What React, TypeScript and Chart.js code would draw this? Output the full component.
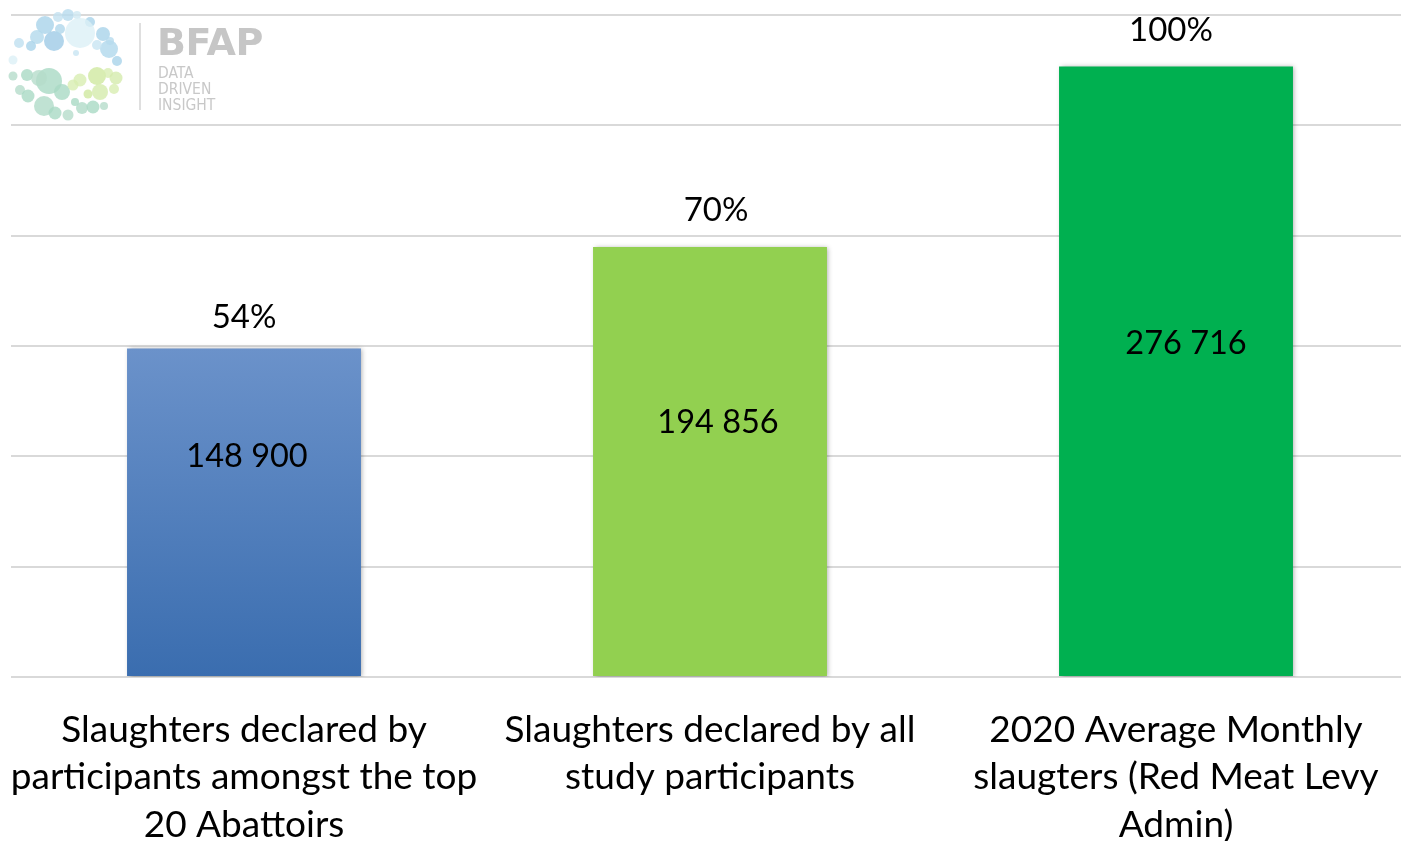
import React, { useEffect, useRef } from "react";
import { Chart, registerables } from "chart.js";

Chart.register(...registerables);

const categories: string[][] = [
  ["Slaughters declared by", "participants amongst the top", "20 Abattoirs"],
  ["Slaughters declared by all", "study participants"],
  ["2020 Average Monthly", "slaugters (Red Meat Levy", "Admin)"],
];
const slaughterValues: number[] = [148900, 194856, 276716];
const shareLabels: string[] = ["54%", "70%", "100%"];
const yMax = 300000;
const yStep = 50000;

const FONT = "Lato, 'Open Sans', sans-serif";
const W = 1410;
const H = 841;
const PLOT_BOTTOM = 677;

const fmt = (v: number) => String(v).replace(/\B(?=(\d{3})+(?!\d))/g, " ");

const barLabelPlugin = {
  id: "barLabels",
  beforeDatasetsDraw(chart: any) {
    const ctx = chart.ctx;
    ctx.save();
    ctx.shadowColor = "rgba(0,0,0,0.35)";
    ctx.shadowBlur = 5;
    ctx.shadowOffsetX = 1.5;
    ctx.shadowOffsetY = 1;
  },
  afterDatasetsDraw(chart: any, _args: any, opts: any) {
    const ctx = chart.ctx;
    ctx.restore();
    const meta = chart.getDatasetMeta(0);
    ctx.save();
    ctx.fillStyle = "#000";
    ctx.textAlign = "center";
    ctx.textBaseline = "middle";
    meta.data.forEach((bar: any, i: number) => {
      const top = bar.y;
      const base = bar.base;
      ctx.font = `33px ${FONT}`;
      ctx.fillText(shareLabels[i], bar.x + opts.aboveDx[i], top - opts.aboveGap[i]);
      ctx.font = `32.5px ${FONT}`;
      const f = opts.insideFrac[i];
      ctx.fillText(fmt(slaughterValues[i]), bar.x + opts.insideDx[i], top + (base - top) * f);
    });
    ctx.restore();
  },
};

const circles: [number, number, number, string][] = [
  [45, 25, 9, "#a9d3ea"], [58, 17, 5, "#c3e1f0"], [68, 15, 6, "#b6dbee"], [77, 15, 4, "#cfe8f3"],
  [90, 22, 5, "#a9d3ea"], [80, 33, 15, "#dcf0f6"], [54, 41, 10, "#9fcbe6"], [37, 37, 7, "#b3d9ec"],
  [31, 46, 5, "#a9d3ea"], [19, 43, 5, "#bfe0f0"], [60, 29, 5, "#b0d7eb"], [103, 34, 7, "#a9d3ea"],
  [109, 49, 9, "#b0d8ec"], [97, 45, 5, "#c8e5f2"], [117, 61, 5, "#a9d3ea"], [13, 60, 4.5, "#dcf0f6"],
  [76, 53, 3, "#c8e5f2"], [110, 41, 4, "#b6dbee"],
  [13, 76, 4.5, "#b5dccb"], [27, 75, 6, "#a9d9c4"], [49, 81, 13, "#a9d9c4"], [39, 78, 8, "#b5dccb"],
  [62, 92, 8, "#a9d9c4"], [20, 90, 5, "#b5dccb"], [28, 96, 6.5, "#a9d9c4"], [44, 106, 10, "#b0dbc8"],
  [55, 113, 6.5, "#a9d9c4"], [68, 115, 5.5, "#b5dccb"], [75, 102, 4, "#a9d9c4"], [82, 108, 6, "#b0dbc8"],
  [93, 107, 6.5, "#a9d9c4"], [104, 106, 4, "#b5dccb"],
  [80, 80, 6.5, "#d8edb1"], [97, 76, 9, "#cfe9a0"], [108, 73, 5, "#d8edb1"], [116, 78, 6.5, "#d4ebac"],
  [100, 92, 8, "#d4ebac"], [114, 89, 5, "#d8edb1"], [88, 94, 4.5, "#cfe9a0"], [73, 85, 5.5, "#d8edb1"],
];

function Logo() {
  return (
    <div style={{ position: "absolute", left: 0, top: 0, width: 280, height: 125, pointerEvents: "none" }}>
      <svg width={280} height={125} style={{ position: "absolute", left: 0, top: 0 }}>
        {circles.map((c, i) => (
          <circle key={i} cx={c[0]} cy={c[1]} r={c[2]} fill={c[3]} fillOpacity={0.8} />
        ))}
        <line x1={140} y1={23} x2={140} y2={110} stroke="#d4d4d4" strokeWidth={1.5} />
        <text x={157} y={55} fontFamily="'DejaVu Sans', sans-serif" fontWeight="bold" fontSize={38} fill="#c6c6c6" letterSpacing={-0.5}>BFAP</text>
        <text x={158} y={78} fontFamily="'DejaVu Sans Condensed', 'DejaVu Sans', sans-serif" fontSize={15.5} fill="#c8c8c8">DATA</text>
        <text x={158} y={94} fontFamily="'DejaVu Sans Condensed', 'DejaVu Sans', sans-serif" fontSize={15.5} fill="#c8c8c8">DRIVEN</text>
        <text x={158} y={110} fontFamily="'DejaVu Sans Condensed', 'DejaVu Sans', sans-serif" fontSize={15.5} fill="#c8c8c8">INSIGHT</text>
      </svg>
    </div>
  );
}

export default function App() {
  const ref = useRef<HTMLCanvasElement | null>(null);

  useEffect(() => {
    if (!ref.current) return;
    const chart = new Chart(ref.current, {
      type: "bar",
      data: {
        labels: categories,
        datasets: [
          {
            data: slaughterValues,
            backgroundColor: (ctx: any) => {
              const i = ctx.dataIndex;
              if (i === 1) return "#92d050";
              if (i === 2) return "#00b050";
              const chart = ctx.chart;
              const y = chart.scales?.y;
              if (!y || !chart.chartArea) return "#4f81bd";
              const top = y.getPixelForValue(slaughterValues[0]);
              const bottom = y.getPixelForValue(0);
              const g = chart.ctx.createLinearGradient(0, top, 0, bottom);
              g.addColorStop(0, "#6b92ca");
              g.addColorStop(1, "#3a6daf");
              return g;
            },
            borderWidth: 0,
            barPercentage: 0.502,
            categoryPercentage: 1,
          },
        ],
      },
      options: {
        responsive: false,
        animation: false,
        events: [],
        layout: { padding: { top: 15, right: 1, left: 0, bottom: 0 } },
        plugins: {
          legend: { display: false },
          tooltip: { enabled: false },
          barLabels: {
            aboveGap: [31, 37, 36],
            aboveDx: [0, 6, -5],
            insideFrac: [0.33, 0.41, 0.455],
            insideDx: [3, 8, 10],
          },
        } as any,
        scales: {
          x: {
            grid: { display: false, drawTicks: false },
            border: { display: false },
            ticks: {
              color: "#000",
              font: { family: FONT, size: 37, lineHeight: 47.5 / 37 },
              padding: 29,
              maxRotation: 0,
              minRotation: 0,
              autoSkip: false,
            },
            afterFit: (s: any) => {
              s.height = H - PLOT_BOTTOM;
              s.paddingLeft = 0;
              s.paddingRight = 0;
            },
          },
          y: {
            min: 0,
            max: yMax,
            ticks: { display: false, stepSize: yStep },
            grid: { color: "#d9d9d9", lineWidth: 2, drawTicks: false },
            border: { display: false },
            afterFit: (s: any) => {
              s.width = 11;
            },
          },
        },
      },
      plugins: [barLabelPlugin],
    });
    return () => chart.destroy();
  }, []);

  return (
    <div style={{ position: "fixed", left: 0, top: 0, width: 1401, height: 841, overflow: "hidden", background: "#fff" }}>
      <canvas ref={ref} width={W} height={H} style={{ display: "block", width: W, height: H }} />
      <Logo />
    </div>
  );
}
